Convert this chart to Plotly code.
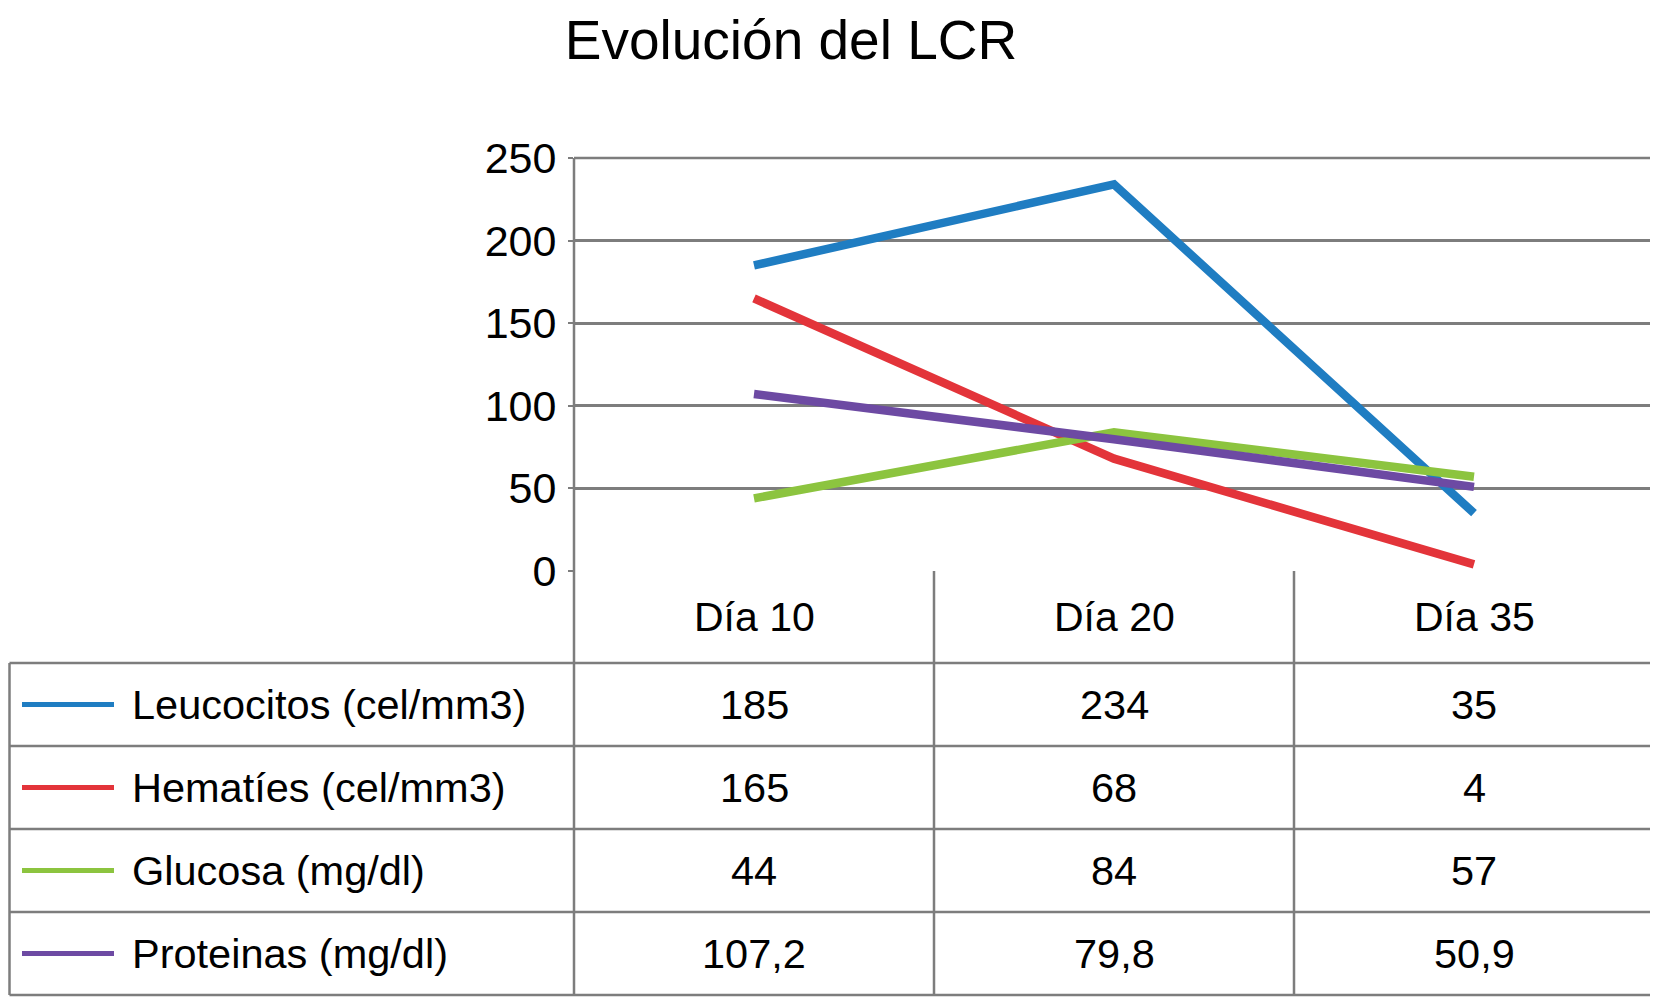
import plotly.graph_objects as go

# chart data
days = ['Día 10', 'Día 20', 'Día 35']
series_names = ['Leucocitos (cel/mm3)', 'Hematíes (cel/mm3)', 'Glucosa (mg/dl)', 'Proteinas (mg/dl)']
leucocitos = [185, 234, 35]
hematies = [165, 68, 4]
glucosa = [44, 84, 57]
proteinas = [107.2, 79.8, 50.9]
y_ticks = [0, 50, 100, 150, 200, 250]

colors = ['#1f7dc2', '#e3343a', '#8cc43f', '#6d4aa3']
series = [leucocitos, hematies, glucosa, proteinas]

# page body has an 8px margin, so the figure is shifted by OFF
OFF = 8
W, H = 1658 - OFF, 1000 - OFF
T = 158 - OFF
L = 574 - OFF
R = 4
B = H - (571 - OFF)
FONT = 'Liberation Sans, Arial, sans-serif'
GRID = '#7d7d7d'

plot_w = W - L - R
plot_h = H - T - B


def px(X):
    # X in screen pixels
    return (X - OFF - L) / plot_w


def py(Y):
    return (H - B - (Y - OFF)) / plot_h


fig = go.Figure()
xs = list(range(len(days)))
for name, vals, col in zip(series_names, series, colors):
    fig.add_trace(go.Scatter(x=xs, y=vals, mode='lines', name=name,
                             line=dict(color=col, width=8.5)))

# table geometry (screen pixels)
axis_y = 571
row_top = 663
row_h = 83
left_x = 9.5
right_x = 1654
col_edges = [574 + i * plot_w / len(days) for i in range(len(days) + 1)]

line_style = dict(color=GRID, width=2.5)
# top gridline (250) drawn by hand, plotly skips it at the range edge
shapes = [dict(type='line', xref='paper', yref='paper', x0=0, x1=1, y0=1, y1=1,
               line=line_style, layer='below')]
for i in range(len(series) + 1):
    Y = row_top + i * row_h
    shapes.append(dict(type='line', xref='paper', yref='paper',
                       x0=px(left_x), x1=px(right_x), y0=py(Y), y1=py(Y), line=line_style))
bottom = row_top + len(series) * row_h
for j, X in enumerate(col_edges):
    # the first edge doubles as the value axis line
    y_start = 1 if j == 0 else py(axis_y)
    shapes.append(dict(type='line', xref='paper', yref='paper',
                       x0=px(X), x1=px(X), y0=y_start, y1=py(bottom), line=line_style,
                       layer='below'))
shapes.append(dict(type='line', xref='paper', yref='paper',
                   x0=px(left_x), x1=px(left_x), y0=py(row_top), y1=py(bottom), line=line_style))

annotations = []
# header row
for i, d in enumerate(days):
    annotations.append(dict(x=i, xref='x', y=py((axis_y + row_top) / 2), yref='paper',
                            text=d, showarrow=False, xanchor='center', yanchor='middle',
                            font=dict(family=FONT, size=41, color='black')))
# data rows
for r, (name, vals, col) in enumerate(zip(series_names, series, colors)):
    yc = row_top + r * row_h + row_h / 2
    shapes.append(dict(type='line', xref='paper', yref='paper',
                       x0=px(22), x1=px(114), y0=py(yc), y1=py(yc),
                       line=dict(color=col, width=5)))
    annotations.append(dict(x=px(130), xref='paper', y=py(yc), yref='paper',
                            text=name, showarrow=False, xanchor='left', yanchor='middle',
                            font=dict(family=FONT, size=41.5, color='black')))
    for i, v in enumerate(vals):
        annotations.append(dict(x=i, xref='x', y=py(yc), yref='paper',
                                text=str(v).replace('.', ','), showarrow=False,
                                xanchor='center', yanchor='middle',
                                font=dict(family=FONT, size=41.5, color='black')))

fig.update_layout(
    width=W, height=H,
    margin=dict(l=L, r=R, t=T, b=B),
    paper_bgcolor='white', plot_bgcolor='white',
    showlegend=False,
    title=dict(text='Evolución del LCR', x=(791 - OFF) / W, xanchor='center',
               y=1 - (40 - OFF) / H, yanchor='middle',
               font=dict(family=FONT, size=55, color='black')),
    shapes=shapes,
    annotations=annotations,
)
fig.update_xaxes(range=[-0.5, len(days) - 0.5], showticklabels=False,
                 showgrid=False, zeroline=False, showline=False)
fig.update_yaxes(range=[0, 250], tickvals=y_ticks, showgrid=True,
                 gridcolor=GRID, gridwidth=2.5, zeroline=False, showline=False,
                 ticks='outside', ticklen=5, tickcolor=GRID, tickwidth=2,
                 ticklabelstandoff=3,
                 tickfont=dict(family=FONT, size=43, color='black'))

fig.write_html("out.html")
